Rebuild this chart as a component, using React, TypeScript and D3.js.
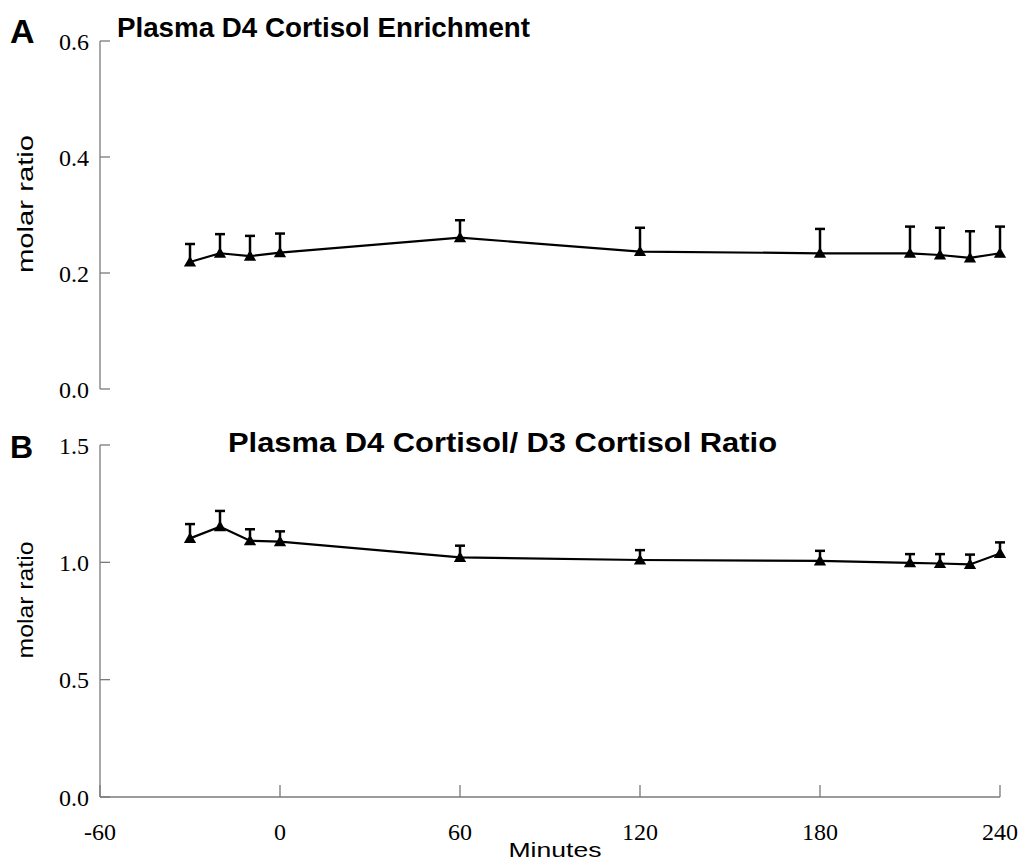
import React from "react";
import * as d3 from "d3";

const minutes = [-30, -20, -10, 0, 60, 120, 180, 210, 220, 230, 240];
const enrichMean = [0.219, 0.234, 0.229, 0.235, 0.261, 0.237, 0.234, 0.234, 0.231, 0.226, 0.234];
const enrichSE = [0.031, 0.033, 0.035, 0.033, 0.030, 0.041, 0.042, 0.046, 0.047, 0.046, 0.046];
const ratioMean = [1.102, 1.152, 1.092, 1.088, 1.021, 1.010, 1.006, 0.998, 0.995, 0.991, 1.038];
const ratioSE = [0.061, 0.067, 0.049, 0.044, 0.050, 0.042, 0.043, 0.037, 0.040, 0.042, 0.047];

const xTicks = [-60, 0, 60, 120, 180, 240];
const topYTicks = [0.0, 0.2, 0.4, 0.6];
const botYTicks = [0.0, 0.5, 1.0, 1.5];

const titleA = "Plasma D4 Cortisol Enrichment";
const titleB = "Plasma D4 Cortisol/ D3 Cortisol Ratio";
const yLabel = "molar ratio";
const xLabel = "Minutes";

const W = 1020;
const H = 863;
const AXIS = "#7a7a7a";
const SERIF = "'Liberation Serif', 'Times New Roman', serif";
const SANS = "'Liberation Sans', Arial, sans-serif";

const x = d3.scaleLinear().domain([-60, 240]).range([100, 1000]);
const yTop = d3.scaleLinear().domain([0, 0.6]).range([389, 41]);
const yBot = d3.scaleLinear().domain([0, 1.5]).range([797, 445]);

const tri = d3.symbol().type(d3.symbolTriangle).size(65)();

function Series({ means, ses, y }: { means: number[]; ses: number[]; y: d3.ScaleLinear<number, number> }) {
  const pts = minutes.map((m, i) => [m, means[i]] as [number, number]);
  const line = d3.line<[number, number]>().x((d) => x(d[0])).y((d) => y(d[1]));
  return (
    <g>
      <path d={line(pts) || ""} fill="none" stroke="#000" strokeWidth={2.2} />
      {minutes.map((m, i) => {
        const cx = x(m);
        const y0 = y(means[i]);
        const y1 = y(means[i] + ses[i]);
        return (
          <g key={i}>
            <line x1={cx} x2={cx} y1={y0} y2={y1} stroke="#000" strokeWidth={2.5} />
            <line x1={cx - 5} x2={cx + 5} y1={y1} y2={y1} stroke="#000" strokeWidth={2.5} />
            <path d={tri} transform={`translate(${cx},${y0 + 1})`} fill="#000" />
          </g>
        );
      })}
    </g>
  );
}

export default function App() {
  return (
    <svg width={W} height={H} style={{ position: "absolute", left: 0, top: 0, background: "#fff" }}>
      <rect width={W} height={H} fill="#fff" />
      {/* Panel A */}
      <text x={10} y={43} fontFamily={SANS} fontWeight="bold" fontSize={34}>A</text>
      <text x={117} y={37} fontFamily={SANS} fontWeight="bold" fontSize={27} textLength={413} lengthAdjust="spacingAndGlyphs">{titleA}</text>
      <line x1={100} x2={100} y1={yTop(0.6)} y2={yTop(0)} stroke={AXIS} strokeWidth={1.3} />
      {topYTicks.map((t) => (
        <g key={t}>
          <line x1={100} x2={110} y1={yTop(t)} y2={yTop(t)} stroke={AXIS} strokeWidth={1.3} />
          <text x={89} y={yTop(t)} dy="0.36em" textAnchor="end" fontFamily={SERIF} fontSize={24}>{t.toFixed(1)}</text>
        </g>
      ))}
      <text transform={`translate(33,204) rotate(-90)`} textAnchor="middle" fontFamily={SANS} fontSize={22} textLength={138} lengthAdjust="spacingAndGlyphs">{yLabel}</text>
      <Series means={enrichMean} ses={enrichSE} y={yTop} />

      {/* Panel B */}
      <text x={10} y={458} fontFamily={SANS} fontWeight="bold" fontSize={32}>B</text>
      <text x={228} y={452} fontFamily={SANS} fontWeight="bold" fontSize={27} textLength={549} lengthAdjust="spacingAndGlyphs">{titleB}</text>
      <line x1={100} x2={100} y1={yBot(1.5)} y2={yBot(0)} stroke={AXIS} strokeWidth={1.3} />
      {botYTicks.map((t) => (
        <g key={t}>
          <line x1={100} x2={110} y1={yBot(t)} y2={yBot(t)} stroke={AXIS} strokeWidth={1.3} />
          <text x={89} y={yBot(t)} dy="0.36em" textAnchor="end" fontFamily={SERIF} fontSize={24}>{t.toFixed(1)}</text>
        </g>
      ))}
      <text transform={`translate(33,600) rotate(-90)`} textAnchor="middle" fontFamily={SANS} fontSize={22} textLength={117} lengthAdjust="spacingAndGlyphs">{yLabel}</text>
      <line x1={x(-60)} x2={x(240)} y1={yBot(0)} y2={yBot(0)} stroke={AXIS} strokeWidth={1.3} />
      {xTicks.map((t) => (
        <g key={t}>
          <line x1={x(t)} x2={x(t)} y1={yBot(0)} y2={yBot(0) - 12} stroke={AXIS} strokeWidth={1.3} />
          <text x={x(t)} y={840} textAnchor="middle" fontFamily={SERIF} fontSize={24}>{t}</text>
        </g>
      ))}
      <text x={555} y={857} textAnchor="middle" fontFamily={SANS} fontSize={21} textLength={93} lengthAdjust="spacingAndGlyphs">{xLabel}</text>
      <Series means={ratioMean} ses={ratioSE} y={yBot} />
    </svg>
  );
}
